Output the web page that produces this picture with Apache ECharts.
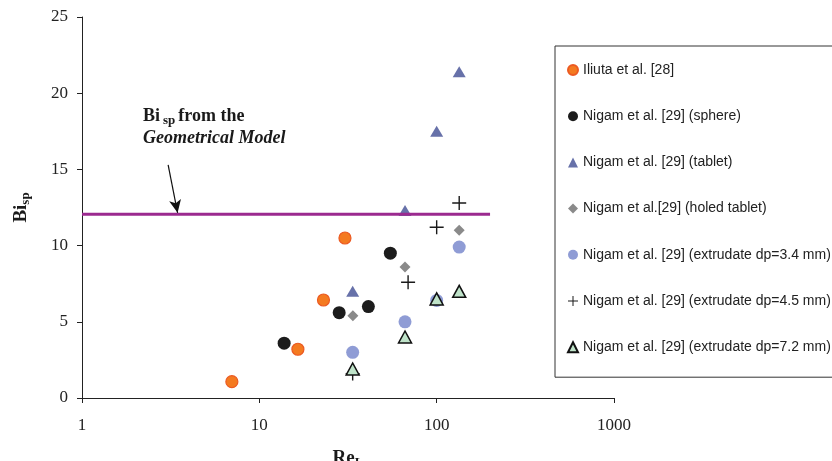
<!DOCTYPE html>
<html>
<head>
<meta charset="utf-8">
<script src="https://cdn.jsdelivr.net/npm/echarts@6/dist/echarts.min.js"></script>
<style>
  html, body { margin: 0; padding: 0; background: #fff; }
  #chart { width: 832px; height: 461px; }
</style>
</head>
<body>
<div id="chart"></div>
<script>
// [Re_L, Bi_sp] pairs
const iliuta   = [[7, 1.07], [16.5, 3.2], [23, 6.43], [30.4, 10.5]];
const sphere   = [[13.8, 3.6], [28.2, 5.6], [41.2, 6.0], [54.8, 9.5]];
const tablet   = [[33.6, 7.0], [66.3, 12.3], [100, 17.5], [134, 21.4]];
const holed    = [[33.7, 5.4], [66.3, 8.6], [134, 11.0]];
const ext34    = [[33.6, 3.0], [66.3, 5.0], [100, 6.4], [134, 9.9]];
const ext45    = [[33.6, 1.6], [69, 7.6], [100, 11.2], [134, 12.8]];
const ext72    = [[33.6, 1.9], [66.3, 4.0], [100, 6.5], [134, 7.0]];

// geometrical model line (Bi_sp constant) and the arrow pointing to it
const modelLine  = [[1, 12.05], [200, 12.05]];
const arrowFrom  = [3.06, 15.3];
const arrowTo    = [3.46, 12.15];

const seriesNames = [
  'Iliuta et al. [28]',
  'Nigam et al. [29] (sphere)',
  'Nigam et al. [29] (tablet)',
  'Nigam et al.[29] (holed tablet)',
  'Nigam et al. [29] (extrudate dp=3.4 mm)',
  'Nigam et al. [29] (extrudate dp=4.5 mm)',
  'Nigam et al. [29] (extrudate dp=7.2 mm)'
];

const xTicks = [1, 10, 100, 1000];

const plusPath = 'path://M9,0 H11 V9 H20 V11 H11 V20 H9 V11 H0 V9 H9 Z';
const serif = '"Liberation Serif", "Times New Roman", serif';

const chart = echarts.init(document.getElementById('chart'));

chart.setOption({
  animation: false,
  grid: { left: 82, right: 218, top: 17, bottom: 63, outerBoundsMode: 'none', containLabel: false },
  xAxis: {
    type: 'log',
    logBase: 10,
    min: xTicks[0],
    max: xTicks[xTicks.length - 1],
    name: '{b|Re}{s|L}',
    nameLocation: 'middle',
    nameGap: 50,
    nameTextStyle: {
      rich: {
        b: { fontFamily: serif, fontSize: 19, fontWeight: 'bold', color: '#1a1a1a' },
        s: { fontFamily: serif, fontSize: 13, fontWeight: 'bold', color: '#1a1a1a', padding: [8, 0, 0, 0] }
      }
    },
    axisLine: { lineStyle: { color: '#222', width: 1 } },
    axisTick: { show: true, length: 5, lineStyle: { color: '#222' } },
    minorTick: { show: false },
    splitLine: { show: false },
    axisLabel: { fontFamily: serif, fontSize: 17, color: '#222', margin: 19, formatter: v => String(v) }
  },
  yAxis: {
    type: 'value',
    min: 0,
    max: 25,
    interval: 5,
    name: '{b|Bi}{s|sp}',
    nameLocation: 'middle',
    nameGap: 50,
    nameRotate: 90,
    nameTextStyle: {
      rich: {
        b: { fontFamily: serif, fontSize: 19, fontWeight: 'bold', color: '#1a1a1a' },
        s: { fontFamily: serif, fontSize: 13, fontWeight: 'bold', color: '#1a1a1a', padding: [8, 0, 0, 0] }
      }
    },
    axisLine: { show: true, lineStyle: { color: '#222', width: 1 } },
    axisTick: { show: true, length: 5, lineStyle: { color: '#222' } },
    splitLine: { show: false },
    axisLabel: { fontFamily: serif, fontSize: 17, color: '#222', margin: 14 }
  },
  legend: {
    orient: 'vertical',
    left: 555,
    top: 46,
    data: seriesNames,
    backgroundColor: '#fff',
    borderColor: '#333',
    borderWidth: 1,
    borderRadius: 0,
    padding: [16, 40, 22, 12],
    itemWidth: 10,
    itemHeight: 10,
    itemGap: 30.2,
    textStyle: { fontFamily: '"Liberation Sans", Arial, sans-serif', fontSize: 14, lineHeight: 16, color: '#222' }
  },
  graphic: [{
    type: 'text',
    left: 143,
    top: 106,
    style: {
      text: '{b|Bi}{s|sp}{b|from the}\n{i|Geometrical Model}',
      rich: {
        b: { fontFamily: serif, fontSize: 18, fontWeight: 'bold', fill: '#1a1a1a', lineHeight: 22 },
        s: { fontFamily: serif, fontSize: 13, fontWeight: 'bold', fill: '#1a1a1a', padding: [8, 3, 0, 3], lineHeight: 22 },
        i: { fontFamily: serif, fontSize: 18, fontWeight: 'bold', fontStyle: 'italic', fill: '#1a1a1a', lineHeight: 22 }
      }
    }
  }],
  series: [
    {
      name: 'model',
      type: 'line',
      data: modelLine,
      symbol: 'none',
      silent: true,
      lineStyle: { color: '#9b2a8f', width: 3 },
      markLine: {
        silent: true,
        symbol: ['none', 'arrow'],
        symbolSize: [9, 13],
        label: { show: false },
        lineStyle: { color: '#111', width: 1.2, type: 'solid' },
        data: [[{ coord: arrowFrom }, { coord: arrowTo }]]
      }
    },
    {
      name: seriesNames[0], type: 'scatter', data: iliuta,
      symbol: 'circle', symbolSize: 12,
      itemStyle: { color: '#f47a20', borderColor: '#ec5a22', borderWidth: 1.2, opacity: 1 }
    },
    {
      name: seriesNames[1], type: 'scatter', data: sphere,
      symbol: 'circle', symbolSize: 13,
      itemStyle: { color: '#1c1c1c', opacity: 1 }
    },
    {
      name: seriesNames[2], type: 'scatter', data: tablet,
      symbol: 'triangle', symbolSize: [13, 11],
      itemStyle: { color: '#6771a9', opacity: 1 }
    },
    {
      name: seriesNames[3], type: 'scatter', data: holed,
      symbol: 'diamond', symbolSize: 11,
      itemStyle: { color: '#8a8a8a', opacity: 1 }
    },
    {
      name: seriesNames[4], type: 'scatter', data: ext34,
      symbol: 'circle', symbolSize: 13,
      itemStyle: { color: '#8f9cd5', opacity: 1 }
    },
    {
      name: seriesNames[5], type: 'scatter', data: ext45,
      symbol: plusPath, symbolSize: 14,
      itemStyle: { color: '#1a1a1a', opacity: 1 }
    },
    {
      name: seriesNames[6], type: 'scatter', data: ext72,
      symbol: 'triangle', symbolSize: [13, 12],
      itemStyle: { color: '#bfe3c9', borderColor: '#111', borderWidth: 1.5, opacity: 1 }
    }
  ]
});
</script>
</body>
</html>
